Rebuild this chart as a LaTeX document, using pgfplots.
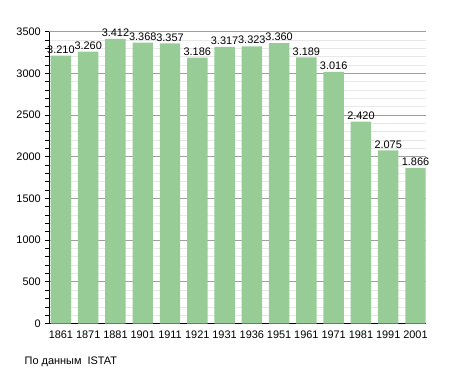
\documentclass[border=0pt]{standalone}
\usepackage{fontspec}
\setmainfont{Liberation Sans}
\usepackage{pgfplots}
\pgfplotsset{compat=1.18}
\definecolor{barg}{RGB}{151,204,151}
\begin{document}
\begin{tikzpicture}
\useasboundingbox (0,0) rectangle (341.25pt,279.75pt);
\begin{axis}[
  at={(37.1pt,37.1pt)}, anchor=south west,
  scale only axis, width=282.4pt, height=219pt,
  xmin=-0.42, xmax=13.385, ymin=0, ymax=3500,
  axis lines=left, axis line style={-, black, line width=0.8pt},
  xtick={0,...,13},
  xticklabels={1861,1871,1881,1901,1911,1921,1931,1936,1951,1961,1971,1981,1991,2001},
  xtick style={draw=none},
  ytick={0,500,...,3500},
  minor y tick num=4,
  tick align=outside,
  major tick length=3pt, minor tick length=3pt,
  ytick style={black, line width=0.5pt},
  ymajorgrids, yminorgrids,
  major grid style={gray!75, line width=0.6pt},
  minor grid style={gray!18, line width=0.5pt},
  tick label style={font=\fontsize{8.2}{10}\selectfont},
  /pgf/number format/assume math mode=true,
  yticklabel style={/pgf/number format/1000 sep={}},
  xticklabel style={yshift=1pt},
  clip=false,
]
\addplot[ybar, bar width=0.75, fill=barg, draw=none,
  nodes near coords={\pgfmathprintnumber[1000 sep={.},assume math mode=true]{\pgfplotspointmeta}},
  every node near coord/.append style={font=\fontsize{8.2}{10}\selectfont, inner sep=1pt, yshift=0.5pt}]
  coordinates {(0,3210) (1,3260) (2,3412) (3,3368) (4,3357) (5,3186) (6,3317) (7,3323) (8,3360) (9,3189) (10,3016) (11,2420) (12,2075) (13,1866)};
\end{axis}
\node[anchor=west, font=\fontsize{8.2}{10}\selectfont] at (15pt,8.5pt) {По данным\ \ ISTAT};
\end{tikzpicture}
\end{document}
